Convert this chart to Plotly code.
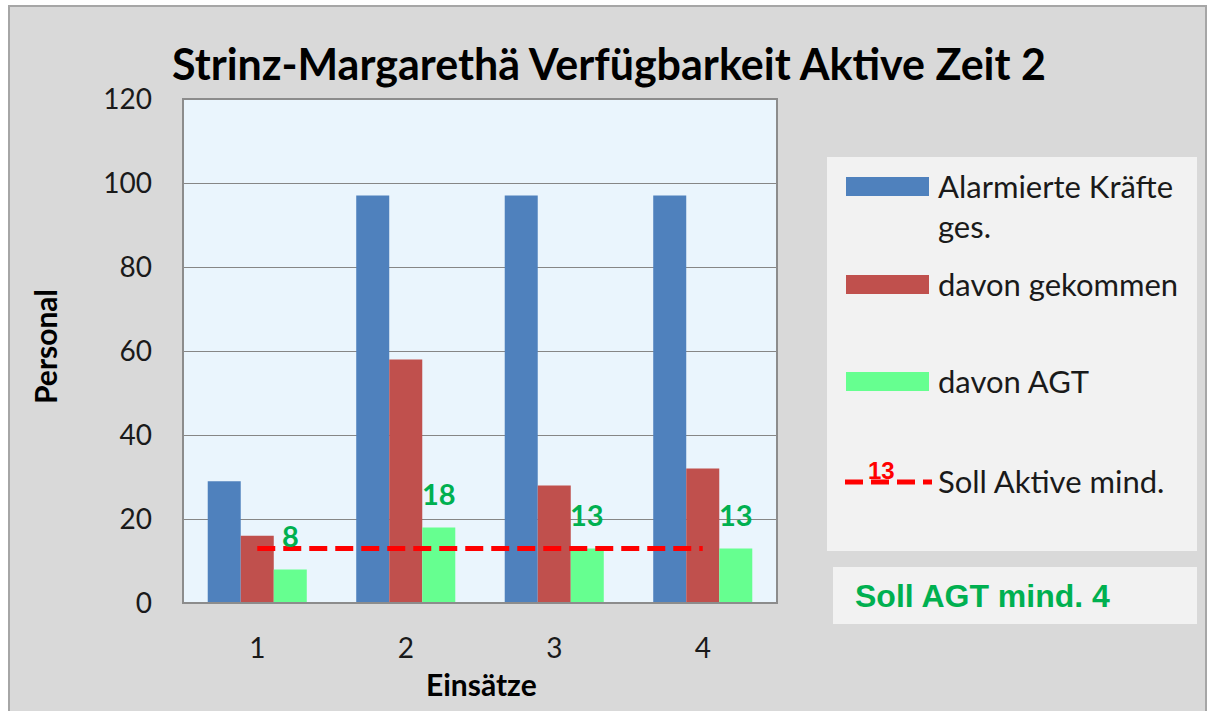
import plotly.graph_objects as go

# ---- data ----
einsaetze = ["1", "2", "3", "4"]
alarmiert = [29, 97, 97, 97]
gekommen = [16, 58, 28, 32]
agt = [8, 18, 13, 13]
soll_aktive = [13, 13, 13, 13]
series_names = ["Alarmierte Kräfte<br>ges.", "davon gekommen", "davon AGT", "Soll Aktive mind."]
y_ticks = [0, 20, 40, 60, 80, 100, 120]

title_text = "Strinz-Margarethä Verfügbarkeit Aktive Zeit 2"
y_title = "Personal"
x_title = "Einsätze"
soll_agt_text = "Soll AGT mind. 4"

# ---- style ----
W, H = 1209, 711
L, R, T, B = 183, 777, 99, 603  # plot area in pixels
C_BLUE = "#4f81bd"
C_RED = "#c0504d"
C_GREEN = "#66ff90"
C_LABEL = "#00b050"
C_LINE = "#ff0000"
FONT = "Lato"
TXT = "#1a1a1a"


def px_x(px):
    return (px - L) / (R - L)


def px_y(py):
    return (B - py) / (B - T)


fig = go.Figure()
fig.add_trace(go.Bar(x=einsaetze, y=alarmiert, name=series_names[0],
                     marker=dict(color=C_BLUE, line=dict(width=0))))
fig.add_trace(go.Bar(x=einsaetze, y=gekommen, name=series_names[1],
                     marker=dict(color=C_RED, line=dict(width=0))))
fig.add_trace(go.Bar(x=einsaetze, y=agt, name=series_names[2],
                     marker=dict(color=C_GREEN, line=dict(width=0))))
fig.add_trace(go.Scatter(x=einsaetze, y=soll_aktive, name=series_names[3], mode="lines",
                         line=dict(color=C_LINE, width=5, dash="18px,8px")))

annotations = []
# value labels above the AGT bars (category axis positions are indices)
for i, v in enumerate(agt):
    annotations.append(dict(x=i, y=v, xref="x", yref="y", text=str(v), showarrow=False,
                            xshift=33, yshift=34, yanchor="middle",
                            font=dict(family=FONT, size=29, color=C_LABEL, weight="bold")))

# chart title
annotations.append(dict(x=px_x(609), y=px_y(63), xref="paper", yref="paper", text=title_text,
                        showarrow=False, xanchor="center", yanchor="middle",
                        font=dict(family=FONT, size=43, color="#000000", weight="bold")))
# axis titles
annotations.append(dict(x=px_x(45), y=px_y(347), xref="paper", yref="paper", text=y_title,
                        showarrow=False, textangle=-90, xanchor="center", yanchor="middle",
                        font=dict(family=FONT, size=30, color="#000000", weight="bold")))
annotations.append(dict(x=px_x(481), y=px_y(684), xref="paper", yref="paper", text=x_title,
                        showarrow=False, xanchor="center", yanchor="middle",
                        font=dict(family=FONT, size=30, color="#000000", weight="bold")))

shapes = [
    # white border strips and chart frame
    dict(type="rect", xref="paper", yref="paper", x0=px_x(0), x1=px_x(W), y0=px_y(0), y1=px_y(6),
         fillcolor="#ffffff", line=dict(width=0), layer="below"),
    dict(type="rect", xref="paper", yref="paper", x0=px_x(0), x1=px_x(9), y0=px_y(0), y1=px_y(H),
         fillcolor="#ffffff", line=dict(width=0), layer="below"),
    dict(type="rect", xref="paper", yref="paper", x0=px_x(1206), x1=px_x(W), y0=px_y(0), y1=px_y(H),
         fillcolor="#ffffff", line=dict(width=0), layer="below"),
    dict(type="rect", xref="paper", yref="paper", x0=px_x(9), x1=px_x(1206), y0=px_y(6), y1=px_y(H + 5),
         fillcolor="rgba(0,0,0,0)", line=dict(color="#a6a6a6", width=2), layer="below"),
    # plot area border
    dict(type="rect", xref="paper", yref="paper", x0=0, x1=1, y0=0, y1=1,
         line=dict(color="#8c8c8c", width=2), layer="above"),
    # legend box and note box
    dict(type="rect", xref="paper", yref="paper", x0=px_x(827), x1=px_x(1197), y0=px_y(157), y1=px_y(551),
         fillcolor="#f2f2f2", line=dict(width=0), layer="below"),
    dict(type="rect", xref="paper", yref="paper", x0=px_x(833), x1=px_x(1197), y0=px_y(567), y1=px_y(624),
         fillcolor="#f2f2f2", line=dict(width=0), layer="below"),
]

# legend entries
legend_rows = [187, 285, 382, 482]
legend_colors = [C_BLUE, C_RED, C_GREEN]
for name, color, yc in zip(series_names[:3], legend_colors, legend_rows[:3]):
    shapes.append(dict(type="rect", xref="paper", yref="paper", x0=px_x(846), x1=px_x(929),
                       y0=px_y(yc - 10), y1=px_y(yc + 9), fillcolor=color, line=dict(width=0)))
shapes.append(dict(type="line", xref="paper", yref="paper", x0=px_x(845), x1=px_x(932),
                   y0=px_y(legend_rows[3]), y1=px_y(legend_rows[3]),
                   line=dict(color=C_LINE, width=5, dash="18px,8px")))

for name, yc in zip(series_names, legend_rows):
    annotations.append(dict(x=px_x(936), y=px_y(yc - 22), xref="paper", yref="paper", text=name,
                            showarrow=False, xanchor="left", yanchor="top", align="left",
                            font=dict(family=FONT, size=31, color=TXT)))

annotations.append(dict(x=px_x(881), y=px_y(470), xref="paper", yref="paper", text=str(soll_aktive[0]),
                        showarrow=False, xanchor="center", yanchor="middle",
                        font=dict(family="Liberation Sans", size=24, color=C_LINE, weight="bold")))
annotations.append(dict(x=px_x(853), y=px_y(596), xref="paper", yref="paper", text=soll_agt_text,
                        showarrow=False, xanchor="left", yanchor="middle",
                        font=dict(family="Liberation Sans", size=32, color=C_LABEL, weight="bold")))

fig.update_layout(
    width=W, height=H, autosize=False,
    margin=dict(l=L, r=W - R, t=T, b=H - B, pad=0),
    paper_bgcolor="#d9d9d9", plot_bgcolor="#eaf5fd",
    barmode="group", bargap=0.333, bargroupgap=0,
    showlegend=False,
    font=dict(family=FONT, color=TXT),
    shapes=shapes, annotations=annotations,
    xaxis=dict(type="category", range=[-0.5, 3.5], showgrid=False, zeroline=False, ticks="",
               tickfont=dict(family=FONT, size=28, color=TXT), ticklabelstandoff=26),
    yaxis=dict(range=[0, 120], tickvals=y_ticks, showgrid=True, gridcolor="#868686", gridwidth=1,
               zeroline=False, ticks="", tickfont=dict(family=FONT, size=28, color=TXT),
               ticklabelstandoff=30),
)

fig.write_html("out.html")
